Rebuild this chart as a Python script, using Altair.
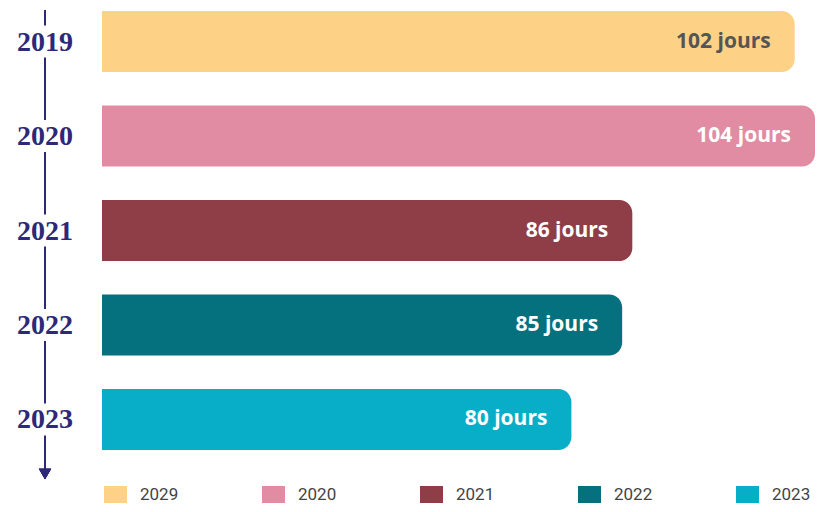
import altair as alt
import pandas as pd

# ---- data ----
years = ["2019", "2020", "2021", "2022", "2023"]
jours = [102, 104, 86, 85, 80]
legend_labels = ["2029", "2020", "2021", "2022", "2023"]
bar_colors = ["#FED286", "#E18CA3", "#8F3E47", "#05717F", "#08AEC7"]
text_colors = ["#555555", "#FFFFFF", "#FFFFFF", "#FFFFFF", "#FFFFFF"]
x_domain = [33.75, 104]

df = pd.DataFrame({
    "annee": years,
    "jours": jours,
    "legende": legend_labels,
    "etiquette": [f"{j} jours" for j in jours],
    "couleur_texte": text_colors,
})

NAVY = "#2E2878"
AXIS_X = -57  # pixel position of the timeline (left of plot)

y_enc = alt.Y("annee:N", sort=years, axis=None,
              scale=alt.Scale(paddingInner=0.354, paddingOuter=0))
x_scale = alt.Scale(domain=x_domain, zero=False, nice=False)

base = alt.Chart(df)

bars = base.mark_bar(cornerRadiusTopRight=13, cornerRadiusBottomRight=13).encode(
    y=y_enc,
    x=alt.X("jours:Q", scale=x_scale, axis=None),
    x2=alt.datum(x_domain[0]),
    color=alt.Color(
        "legende:N",
        sort=legend_labels,
        scale=alt.Scale(domain=legend_labels, range=bar_colors),
        legend=alt.Legend(
            title=None,
            orient="none",
            legendX=5,
            legendY=475,
            direction="horizontal",
            columns=5,
            gridAlign="all",
            padding=0,
            columnPadding=83,
            symbolType="M-1.35,-1H1.35V1H-1.35Z",
            symbolSize=289,
            symbolStrokeWidth=0,
            symbolOpacity=1,
            labelOffset=16,
            labelFont="Roboto",
            labelFontSize=17,
            labelColor="#444444",
        ),
    ),
)

labels = base.mark_text(
    align="right", baseline="middle", dx=-24, font="Open Sans",
    fontSize=21, fontWeight="bold",
).encode(
    y=y_enc,
    x=alt.X("jours:Q", scale=x_scale, axis=None),
    text="etiquette:N",
    color=alt.Color("couleur_texte:N", scale=None),
)

timeline = base.mark_rule(color=NAVY, strokeWidth=2).encode(
    x=alt.value(AXIS_X), y=alt.value(-1), y2=alt.value(458)
)

gaps = base.mark_point(shape="square", filled=True, opacity=1, size=1020,
                       color="white").encode(
    y=y_enc, x=alt.value(AXIS_X)
)

year_text = base.mark_text(
    align="center", baseline="middle", font="Liberation Serif",
    fontSize=28, fontWeight="bold", color=NAVY, dy=1,
).encode(
    y=y_enc, x=alt.value(AXIS_X), text="annee:N"
)

arrow = base.mark_point(shape="triangle-down", filled=True, opacity=1,
                        size=150, color=NAVY).encode(
    x=alt.value(AXIS_X), y=alt.value(463)
)

chart = alt.layer(bars, labels, timeline, gaps, year_text, arrow).properties(
    width=713,
    height=439,
    padding={"left": 94, "top": 3, "right": 0, "bottom": 54},
    autosize=alt.AutoSizeParams(type="none"),
    background="white",
).configure_view(stroke=None)

chart.save("out.html", embed_options={"renderer": "svg", "actions": False})
